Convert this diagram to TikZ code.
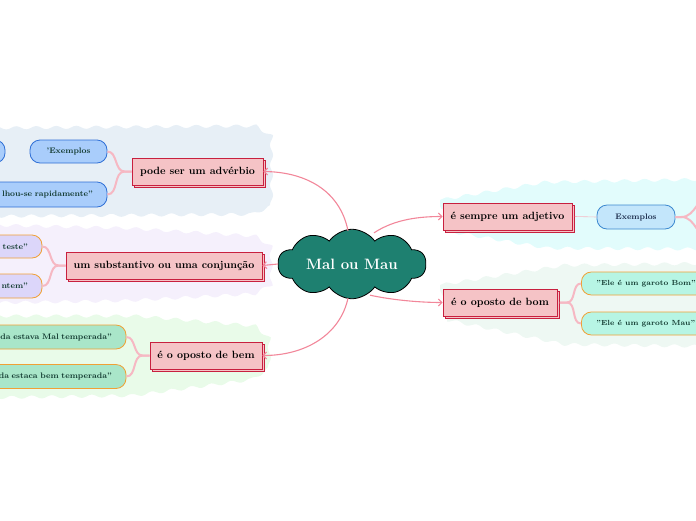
\documentclass[tikz,border=0pt]{standalone}
\usepackage{fontspec}
\usetikzlibrary{shapes.symbols,shadows,arrows.meta,decorations.pathmorphing}
\definecolor{cloudfill}{HTML}{1E8070}
\definecolor{topicfill}{HTML}{F5C3C6}
\definecolor{topicdraw}{HTML}{C8203F}
\definecolor{arrowc}{HTML}{F2879A}
\definecolor{branchc}{HTML}{F6B8C3}
\definecolor{bluefill}{HTML}{A9CDFB}
\definecolor{bluedraw}{HTML}{2F6FD6}
\definecolor{lavfill}{HTML}{DCD6FA}
\definecolor{orangedraw}{HTML}{F0A035}
\definecolor{mintfill}{HTML}{A9E6C9}
\definecolor{skyfill}{HTML}{C3E6FB}
\definecolor{skydraw}{HTML}{3B88D0}
\definecolor{aquafill}{HTML}{B7F5E4}
\definecolor{bgblue}{HTML}{E7EFF6}
\definecolor{bglav}{HTML}{F5F0FC}
\definecolor{bggreen}{HTML}{E9FBE9}
\definecolor{bgcyan}{HTML}{E2FCFC}
\definecolor{bgmint}{HTML}{EEF8F3}
\definecolor{childtext}{HTML}{123A30}
\definecolor{navytext}{HTML}{1A2A4A}
\begin{document}
\begin{tikzpicture}[x=1pt,y=-1pt,
  blob/.style={decorate,decoration={snake,amplitude=1.6pt,segment length=20pt}},
  topic/.style={draw=topicdraw,fill=topicfill,line width=0.8pt,
    font=\bfseries\fontsize{10.5}{12}\selectfont,inner sep=0pt,minimum height=27pt,
    copy shadow={shadow xshift=2.5pt,shadow yshift=-2.5pt,draw=topicdraw,fill=topicfill}},
  child/.style={rounded corners=10pt,line width=0.8pt,minimum height=23pt,inner ysep=0pt,
    font=\bfseries\fontsize{8}{9.5}\selectfont,text=childtext},
  arr/.style={draw=arrowc,line width=1.1pt,-{Straight Barb[length=3.5pt,width=7pt]}},
  branch/.style={draw=branchc,line width=2pt},
]
\useasboundingbox (0,0) rectangle (696,520);
\clip (0,0) rectangle (696,520);
% backgrounds
\fill[bgblue,blob] (-10,128) -- (120,127) -- (250,126) -- (272,140) -- (272,205) -- (250,214) -- (120,215) -- (-10,216) -- cycle;
\fill[bglav,blob] (-10,225) -- (120,228) -- (250,236) -- (268,248) -- (268,288) -- (250,298) -- (120,305) -- (-10,307) -- cycle;
\fill[bggreen,blob] (-10,316) -- (130,316) -- (250,326) -- (266,340) -- (266,372) -- (250,382) -- (130,398) -- (-10,400) -- cycle;
\fill[bgcyan,blob] (440,200) -- (540,183) -- (706,180) -- (706,256) -- (540,255) -- (440,238) -- cycle;
\fill[bgmint,blob] (440,285) -- (560,266) -- (706,264) -- (706,347) -- (560,345) -- (440,320) -- cycle;

% central
\node[cloud,cloud puffs=10,cloud puff arc=110,aspect=2.8,minimum width=148pt,minimum height=58pt,
  fill=cloudfill,draw=black,line width=0.8pt,text=white,
  font=\bfseries\fontsize{15}{17}\selectfont] (root) at (352,264) {Mal ou Mau};

% main topics
\node[topic,minimum width=131pt] (pode) at (197.5,171.5) {pode ser um advérbio};
\node[topic,minimum width=196pt] (subst) at (164,265.5) {um substantivo ou uma conjunção};
\node[topic,minimum width=112pt] (bem) at (206,355.5) {é o oposto de bem};
\node[topic,minimum width=129pt] (adj) at (507.5,216.5) {é sempre um adjetivo};
\node[topic,minimum width=114pt] (bom) at (500,302.5) {é o oposto de bom};

% children left
\node[child,fill=bluefill,draw=bluedraw,minimum width=65pt] (exLL) at (-27.5,151.5) {};
\node[child,fill=bluefill,draw=bluedraw,minimum width=77pt] (exL) at (68.5,151.5) {'Exemplos};
\node[child,fill=bluefill,draw=bluedraw,minimum width=167pt,minimum height=25pt,inner xsep=0pt,
  text width=139pt,align=right] (rap) at (23.5,194.5) {lhou-se rapidamente"};
\node[child,fill=lavfill,draw=orangedraw,minimum width=122pt,inner xsep=0pt,
  text width=94pt,align=right] (teste) at (-19,246.5) {teste"};
\node[child,fill=lavfill,draw=orangedraw,minimum width=122pt,minimum height=24pt,inner xsep=0pt,
  text width=94pt,align=right] (ontem) at (-19,286) {ntem"};
\node[child,fill=mintfill,draw=orangedraw,minimum width=226pt,minimum height=24pt,inner xsep=0pt,
  text width=198pt,align=right] (malt) at (13,337) {da estava Mal temperada"};
\node[child,fill=mintfill,draw=orangedraw,minimum width=226pt,minimum height=24pt,inner xsep=0pt,
  text width=198pt,align=right] (bemt) at (13,376.5) {da estaca bem temperada"};

% children right
\node[child,fill=skyfill,draw=skydraw,text=navytext,minimum width=78pt,minimum height=24pt] (exR) at (636,217) {Exemplos};
\node[child,fill=aquafill,draw=orangedraw,anchor=west,inner xsep=15pt,
  font=\bfseries\fontsize{7.4}{9}\selectfont] (garbom) at (581,283.5) {"Ele é um garoto Bom"};
\node[child,fill=aquafill,draw=orangedraw,anchor=west,inner xsep=15pt,
  font=\bfseries\fontsize{7.4}{9}\selectfont] (garmau) at (581,323.5) {"Ele é um garoto Mau"};
\coordinate (exR1) at (712,195);
\coordinate (exR2) at (712,240);

% arrows from root
\draw[arr] (root.north) ++(-4,2) .. controls (340,190) and (305,172) .. (pode.east);
\draw[arr] (root.west) -- (subst.east);
\draw[arr] (root.south) ++(-4,-1) .. controls (340,335) and (305,355.5) .. (bem.east);
\draw[arr] (root.north) ++(22,4) .. controls (395,219) and (420,216.5) .. (adj.west);
\draw[arr] (root.south) ++(18,-4) .. controls (392,300) and (420,302.5) .. (bom.west);

% branches
\draw[branch] (pode.west) -- ++(-7,0) to[out=180,in=0] (exL.east);
\draw[branch] (pode.west) -- ++(-7,0) to[out=180,in=0] (rap.east);
\draw[branch] (subst.west) -- ++(-7,0) to[out=180,in=0] (teste.east);
\draw[branch] (subst.west) -- ++(-7,0) to[out=180,in=0] (ontem.east);
\draw[branch] (bem.west) -- ++(-7,0) to[out=180,in=0] (malt.east);
\draw[branch] (bem.west) -- ++(-7,0) to[out=180,in=0] (bemt.east);
\draw[branch] (bom.east) ++(2.5,0) -- ++(7,0) to[out=0,in=180] (garbom.west);
\draw[branch] (bom.east) ++(2.5,0) -- ++(7,0) to[out=0,in=180] (garmau.west);
\draw[draw=branchc,line width=0.6pt] (adj.east) ++(2.5,0) -- (exR.west);
\draw[branch] (exR.east) -- ++(6,0) to[out=0,in=180] (exR1);
\draw[branch] (exR.east) -- ++(6,0) to[out=0,in=180] (exR2);
\end{tikzpicture}
\end{document}
